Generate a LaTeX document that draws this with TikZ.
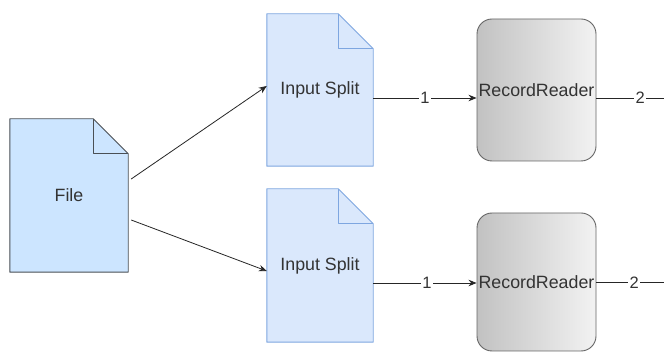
\documentclass[tikz,border=0pt]{standalone}
\usepackage{fontspec}
\setmainfont{Liberation Sans}
\usetikzlibrary{arrows.meta,backgrounds,calc}
\definecolor{filefill}{HTML}{CCE5FF}
\definecolor{filedraw}{HTML}{4A4F55}
\definecolor{splitfill}{HTML}{DAE8FC}
\definecolor{splitdraw}{HTML}{7EA6E0}
\definecolor{rrdraw}{HTML}{666666}
\definecolor{txt}{HTML}{333333}
\newcommand{\drawdoc}[3]{%
  \draw[fill=#2, draw=#3, line width=0.9pt, line join=round]
    (#1.north west) -- ([xshift=-35pt]#1.north east) -- ([yshift=-35pt]#1.north east)
    -- (#1.south east) -- (#1.south west) -- cycle;
  \draw[draw=#3, line width=0.9pt, line join=round]
    ([xshift=-35pt]#1.north east) -- ([xshift=-35pt,yshift=-35pt]#1.north east)
    -- ([yshift=-35pt]#1.north east);}
\begin{document}
\begin{tikzpicture}[x=1pt,y=-1pt,
  font=\fontsize{17.8}{20}\selectfont,
  box/.style={inner sep=0pt, text=txt},
  rr/.style={box, draw=rrdraw, line width=0.9pt, rounded corners=15pt,
    left color=black!24, right color=black!5, minimum width=119pt},
  conn/.style={draw=black!85, line width=0.8pt},
  arr/.style={conn, -{Stealth[length=8pt,width=6.5pt]}},
  lbl/.style={fill=white, inner sep=1.5pt, text=txt, font=\fontsize{16.5}{18}\selectfont}]
\useasboundingbox (0,0) rectangle (664,352);
% nodes
\node[box, minimum width=118pt, minimum height=153pt] (f) at (69,195.5) {File};
\node[box, minimum width=106pt, minimum height=152pt] (s1) at (320,90) {Input Split};
\node[box, minimum width=106pt, minimum height=153pt] (s2) at (320,265.5) {Input Split};
\node[rr, minimum height=142pt] (r1) at (536.5,90) {RecordReader};
\node[rr, minimum height=138pt] (r2) at (536.5,282) {RecordReader};
\begin{scope}[on background layer]
  \fill[white] (0,0) rectangle (664,352);
  \drawdoc{f}{filefill}{filedraw}
  \drawdoc{s1}{splitfill}{splitdraw}
  \drawdoc{s2}{splitfill}{splitdraw}
\end{scope}
% connectors
\draw[arr] ([xshift=3pt,yshift=16.5pt]f.east) -- ([yshift=4pt]s1.west);
\draw[arr] ([xshift=3pt,yshift=-24.5pt]f.east) -- ([yshift=-5.5pt]s2.west);
\draw[arr] ([yshift=-8pt]s1.east) coordinate (a1) -- (a1 -| r1.west) node[lbl, midway] {1};
\draw[arr] ([yshift=-17.5pt]s2.east) coordinate (a2) -- (a2 -| r2.west) node[lbl, pos=0.52] {1};
\coordinate (o1) at (664,98);
\coordinate (o2) at (664,282.5);
\draw[conn] (o1 -| r1.east) -- (o1) node[lbl, pos=0.647] {2};
\draw[conn] (o2 -| r2.east) -- (o2) node[lbl, pos=0.56] {2};
\end{tikzpicture}
\end{document}
